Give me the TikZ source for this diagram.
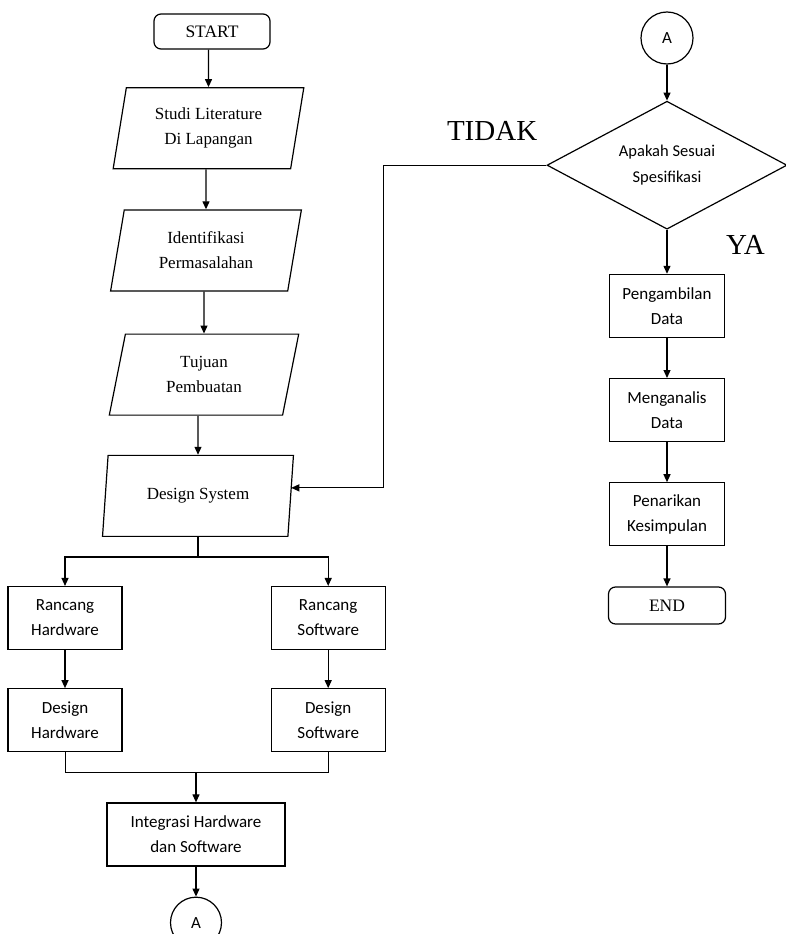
\documentclass[tikz,border=0pt]{standalone}
\usepackage{fontspec}
\setmainfont{Liberation Serif}
\newfontfamily\boxfont{Carlito}
\usetikzlibrary{arrows.meta, positioning, shapes.geometric}

\begin{document}
\begin{tikzpicture}[
        x=1pt, y=1pt,
        node distance=40pt and 148pt,
        terminal/.style={rectangle, rounded corners=7pt, draw, line width=1.2pt, minimum width=116pt, minimum height=35pt, font=\fontsize{17.5}{20}\selectfont},
        inout/.style={trapezium, trapezium left angle=78, trapezium right angle=102, trapezium stretches, draw, line width=1.2pt, minimum width=191pt, minimum height=81pt, inner sep=0pt, align=center, font=\fontsize{17}{25}\selectfont},
        process/.style={rectangle, draw, line width=1.2pt, minimum width=114pt, minimum height=63pt, align=center, font=\boxfont\fontsize{17}{25}\selectfont},
        decision/.style={diamond, draw, line width=1.2pt, aspect=1.875, minimum width=240pt, minimum height=128pt, inner sep=0pt, align=center, font=\boxfont\fontsize{16.5}{26}\selectfont},
        connector/.style={circle, draw, line width=1.2pt, minimum size=51pt, inner sep=0pt, font=\boxfont\fontsize{17}{20}\selectfont},
        answer/.style={inner sep=0pt, font=\fontsize{29}{30}\selectfont},
        arrow/.style={-{Triangle[length=8pt, width=7pt]}, line width=1.2pt}
    ]
        \useasboundingbox (0,0) rectangle (786,-934);
        % left column
        \node[terminal] (start) at (212,-31.5) {START};
        \node[inout, below=37.5pt of start, xshift=-3.5pt] (studi) {Studi Literature\\Di Lapangan};
        \node[inout, below=40pt of studi, xshift=-2.5pt] (ident) {Identifikasi\\Permasalahan};
        \node[inout, below=42pt of ident, xshift=-2pt] (tujuan) {Tujuan\\Pembuatan};
        \node[inout, below=39pt of tujuan, xshift=-6pt] (design) {Design System};
        \node[process, below=49pt of design, xshift=-133pt] (rhw) {Rancang\\Hardware};
        \node[process, right=of rhw] (rsw) {Rancang\\Software};
        \node[process, below=38pt of rhw] (dhw) {Design\\Hardware};
        \node[process, below=38pt of rsw] (dsw) {Design\\Software};
        \node[process, minimum width=178pt, below=50pt of dhw, xshift=131pt] (integ) {Integrasi Hardware\\dan Software};
        \node[connector, below=30pt of integ] (conA) {A};
        % right column
        \node[connector, minimum size=52pt] (conB) at (667,-38) {A};
        \node[decision, below=36pt of conB] (cek) {Apakah Sesuai\\Spesifikasi};
        \node[process, minimum width=115pt, below=44pt of cek] (ambil) {Pengambilan\\Data};
        \node[process, minimum width=115pt, below=of ambil] (analisis) {Menganalis\\Data};
        \node[process, minimum width=115pt, below=of analisis] (tarik) {Penarikan\\Kesimpulan};
        \node[terminal, minimum width=117pt, minimum height=37pt, below=of tarik] (finish) {END};
        \node[answer, above left=24pt and 9pt of cek.west] (tidak) {TIDAK};
        \node[answer, below right=5pt and 59pt of cek.south] (ya) {YA};

        \draw[arrow] (start.south -| studi) -- (studi);
        \draw[arrow] (studi.south -| ident) -- (ident);
        \draw[arrow] (ident.south -| tujuan) -- (tujuan);
        \draw[arrow] (tujuan.south -| design) -- (design);
        \draw[arrow] (design.south) -- ++(0,-20) -| (rhw);
        \draw[arrow] (design.south) -- ++(0,-20) -| (rsw);
        \draw[arrow] (rhw) -- (dhw);
        \draw[arrow] (rsw) -- (dsw);
        \draw (dhw.south) -- ++(0,-20) coordinate (mrg) -| (dsw.south);
        \draw[arrow] (mrg -| integ) -- (integ);
        \draw[arrow] (integ) -- (conA);
        \draw[arrow] (conB) -- (cek);
        \draw[arrow] (cek) -- (ambil);
        \draw[arrow] (ambil) -- (analisis);
        \draw[arrow] (analisis) -- (tarik);
        \draw[arrow] (tarik) -- (finish);
        \draw[arrow] (cek.west) -- ++(-163,0) |- ([yshift=8pt]design.east);
    \end{tikzpicture}
\end{document}
